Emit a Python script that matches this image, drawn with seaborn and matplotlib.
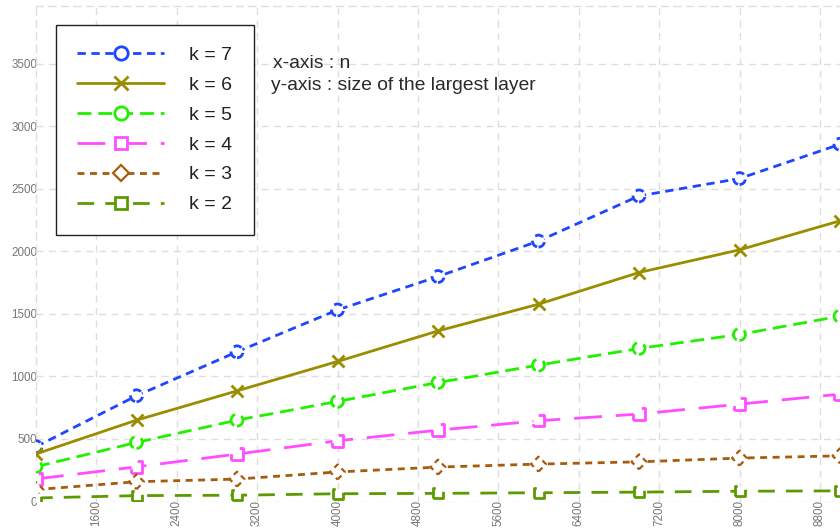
import matplotlib
matplotlib.use("Agg")
import matplotlib.pyplot as plt
import pandas as pd
import seaborn as sns
from matplotlib.lines import Line2D

# problem size n on the x-axis
n_values = [1000, 2000, 3000, 4000, 5000, 6000, 7000, 8000, 9000]

# size of the largest layer for each k
k7 = [438, 845, 1196, 1531, 1798, 2081, 2442, 2581, 2855]
k6 = [380, 650, 884, 1119, 1363, 1577, 1830, 2011, 2243]
k5 = [278, 472, 650, 800, 951, 1090, 1223, 1335, 1481]
k4 = [180, 277, 379, 485, 570, 645, 699, 778, 858]
k3 = [95, 158, 179, 236, 275, 299, 317, 347, 365]
k2 = [28, 47, 50, 62, 65, 70, 75, 82, 85]

series_labels = ["k = 7", "k = 6", "k = 5", "k = 4", "k = 3", "k = 2"]
series_values = [k7, k6, k5, k4, k3, k2]

x_ticks = [1600, 2400, 3200, 4000, 4800, 5600, 6400, 7200, 8000, 8800]
y_ticks = [0, 500, 1000, 1500, 2000, 2500, 3000, 3500]

styles = {
    "k = 7": dict(color="#1f45ff", ls=(0, (3, 2)), marker="o", ms=8.6, mew=2.0),
    "k = 6": dict(color="#9a8d00", ls="-", marker="x", ms=8.6, mew=2.0),
    "k = 5": dict(color="#22f000", ls=(0, (5, 2.5)), marker="o", ms=8.6, mew=2.0),
    "k = 4": dict(color="#ff4dff", ls=(0, (10, 5)), marker="s", ms=8.2, mew=2.0),
    "k = 3": dict(color="#a65c0c", ls=(0, (2.5, 2)), marker="D", ms=7.6, mew=1.6),
    "k = 2": dict(color="#5c9a00", ls=(0, (6, 4)), marker="s", ms=7.2, mew=2.0),
}

rows = []
for label, vals in zip(series_labels, series_values):
    for n, v in zip(n_values, vals):
        rows.append({"n": n, "size": v, "k": label})
df = pd.DataFrame(rows)

sns.set_theme(style="white")
plt.rcParams["font.family"] = ["Liberation Sans", "DejaVu Sans"]

fig = plt.figure(figsize=(8.4, 5.29), dpi=100)
ax = fig.add_axes([36 / 840, 27.5 / 529, 1 - 36 / 840, (501.5 - 6) / 529])

# lines first, then hollow markers whose outlines share the line dash
for label in series_labels:
    st = styles[label]
    sub = df[df["k"] == label]
    sns.lineplot(data=sub, x="n", y="size", ax=ax, color=st["color"],
                 linestyle=st["ls"], linewidth=2.0, legend=False, zorder=3)
for label in series_labels:
    st = styles[label]
    sub = df[df["k"] == label]
    if st["marker"] == "x":
        sns.scatterplot(data=sub, x="n", y="size", ax=ax, marker="x",
                        color=st["color"], s=st["ms"] ** 2, linewidth=st["mew"],
                        legend=False, zorder=4)
    else:
        sns.scatterplot(data=sub, x="n", y="size", ax=ax, marker=st["marker"],
                        facecolor="white", edgecolor=st["color"],
                        s=st["ms"] ** 2, linewidth=st["mew"],
                        linestyle=st["ls"], legend=False, zorder=4)

ax.set_xlim(1000, 9000)
ax.set_ylim(0, 3960)
ax.set_xticks(x_ticks)
ax.set_yticks(y_ticks)
ax.set_xticklabels([str(t) for t in x_ticks], rotation=90)
ax.set_xlabel("")
ax.set_ylabel("")
ax.tick_params(axis="both", length=0, labelsize=8.4, colors="#777777")
ax.tick_params(axis="y", pad=-1)
ax.tick_params(axis="x", pad=-1)

ax.grid(True, color="#dedede", linestyle=(0, (5, 4)), linewidth=1.0)
for side in ["right", "bottom"]:
    ax.spines[side].set_visible(False)
for side in ["left", "top"]:
    ax.spines[side].set_color("#dedede")
    ax.spines[side].set_linestyle((0, (5, 4)))
    ax.spines[side].set_linewidth(1.0)

handles = []
for label in series_labels:
    st = styles[label]
    if st["marker"] == "x":
        h = Line2D([], [], color=st["color"], ls=st["ls"], lw=2.0, marker="x",
                   ms=st["ms"] + 1, mew=st["mew"])
    else:
        h = Line2D([], [], color=st["color"], ls=st["ls"], lw=2.0,
                   marker=st["marker"], ms=st["ms"] + 1, mew=st["mew"],
                   mfc="white", mec=st["color"])
    handles.append(h)

leg = fig.legend(handles, series_labels, loc="upper left",
                 bbox_to_anchor=(56 / 840, 1 - 25 / 529),
                 bbox_transform=fig.transFigure, borderaxespad=0,
                 fontsize=14, handlelength=4.45, handletextpad=1.3,
                 labelspacing=0.63, borderpad=1.1, fancybox=False,
                 framealpha=1, edgecolor="#222222", frameon=True)
leg.get_frame().set_linewidth(1.0)
for t in leg.get_texts():
    t.set_color("#222222")

fig.text(273 / 840, 1 - 64 / 529, "x-axis : n", fontsize=13.9,
         color="#2a2a2a", va="center", ha="left")
fig.text(271 / 840, 1 - 85 / 529, "y-axis : size of the largest layer",
         fontsize=13.9, color="#2a2a2a", va="center", ha="left")

fig.savefig("out.png", dpi=100, facecolor="white")
